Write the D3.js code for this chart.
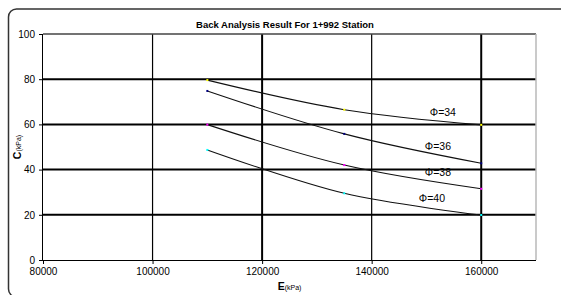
<!DOCTYPE html>
<html lang="en">
<head>
<meta charset="UTF-8">
<title>Back Analysis Result</title>
<script src="https://d3js.org/d3.v7.min.js"></script>
<style>
    body { margin: 0; background: #fff; }
    text { font-family: "Liberation Sans", Arial, sans-serif; fill: #000; }
</style>
</head>
<body>
<svg width="561" height="295"></svg>
<script>
    // data
    const E = [110000, 135000, 160000];
    const phi34 = [79.6, 66.5, 59.8];
    const phi36 = [74.8, 55.8, 42.8];
    const phi38 = [59.9, 42.0, 31.5];
    const phi40 = [48.7, 29.5, 19.9];
    const seriesNames = ["Φ=34", "Φ=36", "Φ=38", "Φ=40"];
    const markerColors = ["#ffff00", "#000080", "#ff00ff", "#00ffff"];
    const labelE = [153000, 152100, 152100, 151000];
    const labelC = [63.7, 48.7, 37.2, 25.7];
    const xTicks = [80000, 100000, 120000, 140000, 160000];
    const yTicks = [0, 20, 40, 60, 80, 100];

    const series = [phi34, phi36, phi38, phi40];

    const svg = d3.select("svg");

    // outer chart frame (runs off the picture to the right)
    svg.append("rect")
        .attr("x", 8.5).attr("y", 9)
        .attr("width", 600).attr("height", 288)
        .attr("rx", 8)
        .attr("fill", "#fff")
        .attr("stroke", "#333")
        .attr("stroke-width", 1.5);

    const x = d3.scaleLinear().domain([80000, 170000]).range([43, 536]);
    const y = d3.scaleLinear().domain([0, 100]).range([260, 34]);

    // title
    svg.append("text")
        .attr("x", 285).attr("y", 28)
        .attr("text-anchor", "middle")
        .attr("font-size", 9.5).attr("font-weight", "bold")
        .text("Back Analysis Result For 1+992 Station");

    // series labels (sit under the gridlines)
    svg.append("g").selectAll("text")
        .data(seriesNames)
        .enter().append("text")
        .attr("x", (d, i) => x(labelE[i]))
        .attr("y", (d, i) => y(labelC[i]))
        .attr("text-anchor", "middle")
        .attr("font-size", 10.5)
        .attr("fill", "#222")
        .text(d => d);

    // horizontal gridlines
    svg.append("g").selectAll("line")
        .data(yTicks.filter(v => v > 0 && v < 100))
        .enter().append("line")
        .attr("x1", x(80000)).attr("x2", x(170000))
        .attr("y1", d => y(d)).attr("y2", d => y(d))
        .attr("stroke", "#000").attr("stroke-width", 2);

    // vertical gridlines
    svg.append("g").selectAll("line")
        .data(xTicks.filter(v => v > 80000))
        .enter().append("line")
        .attr("x1", d => x(d)).attr("x2", d => x(d))
        .attr("y1", y(0)).attr("y2", y(100))
        .attr("stroke", "#000")
        .attr("stroke-width", d => (d === 120000 || d === 160000) ? 2 : 1.2);

    // plot area border: top dark, right light grey
    svg.append("line")
        .attr("x1", x(80000)).attr("x2", x(170000))
        .attr("y1", y(100)).attr("y2", y(100))
        .attr("stroke", "#444").attr("stroke-width", 1.3);
    svg.append("line")
        .attr("x1", x(170000)).attr("x2", x(170000))
        .attr("y1", y(100)).attr("y2", y(0))
        .attr("stroke", "#b8b8b8").attr("stroke-width", 1.5);

    // axes
    const xAxis = d3.axisBottom(x).tickValues(xTicks).tickSize(4).tickPadding(4).tickFormat(d3.format("d"));
    const gx = svg.append("g")
        .attr("transform", `translate(0,${y(0)})`)
        .call(xAxis);
    gx.select(".domain").attr("stroke", "#000").attr("d", `M${x(80000)},0.5H${x(170000)}`);
    gx.selectAll("text").attr("font-size", 10).attr("fill", "#222").attr("font-family", "Liberation Sans, Arial, sans-serif");

    const yAxis = d3.axisLeft(y).tickValues(yTicks).tickSize(4).tickPadding(4);
    const gy = svg.append("g")
        .attr("transform", `translate(${x(80000)},0)`)
        .call(yAxis);
    gy.select(".domain").attr("stroke", "#000").attr("d", `M-0.5,${y(0)}V${y(100)}`);
    gy.selectAll("text").attr("font-size", 10).attr("fill", "#222").attr("font-family", "Liberation Sans, Arial, sans-serif");

    // curves
    const line = d3.line()
        .x((d, i) => x(E[i]))
        .y(d => y(d))
        .curve(d3.curveCatmullRom.alpha(0.5));

    svg.append("g").selectAll("path")
        .data(series)
        .enter().append("path")
        .attr("d", d => line(d))
        .attr("fill", "none")
        .attr("stroke", "#111")
        .attr("stroke-width", 1.1);

    // tiny markers
    series.forEach((s, k) => {
        svg.append("g").selectAll("rect")
            .data(s)
            .enter().append("rect")
            .attr("x", (d, i) => x(E[i]) - 1)
            .attr("y", d => y(d) - 1)
            .attr("width", 2).attr("height", 2)
            .attr("fill", markerColors[k]);
    });

    // axis titles
    const yt = svg.append("text")
        .attr("transform", `translate(21,${y(50)}) rotate(-90)`)
        .attr("text-anchor", "middle");
    yt.append("tspan").attr("font-size", 10.5).attr("font-weight", "bold").text("C");
    yt.append("tspan").attr("font-size", 7).text("(kPa)");

    const xt = svg.append("text")
        .attr("x", x(125000)).attr("y", 290)
        .attr("text-anchor", "middle");
    xt.append("tspan").attr("font-size", 10.5).attr("font-weight", "bold").text("E");
    xt.append("tspan").attr("font-size", 7).text("(kPa)");
</script>
</body>
</html>
